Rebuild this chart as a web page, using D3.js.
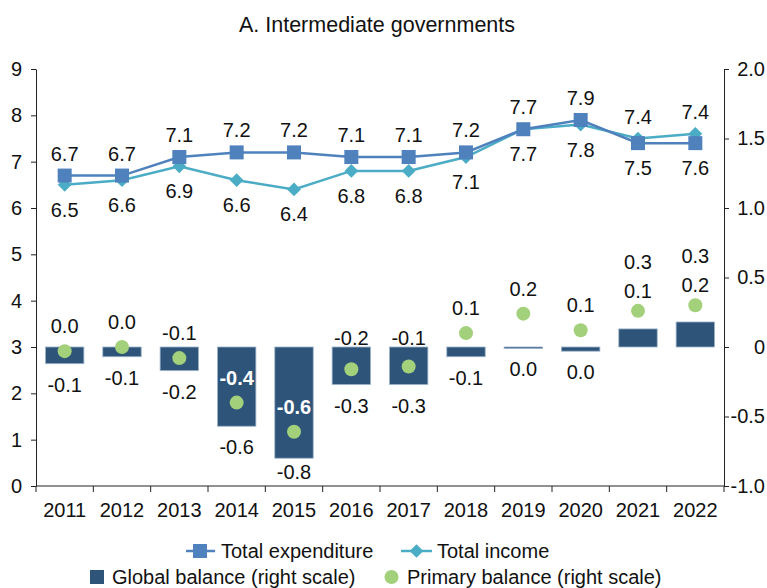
<!DOCTYPE html>
<html>
<head>
<meta charset="utf-8">
<script src="https://cdn.jsdelivr.net/npm/d3@7"></script>
<style>
  html, body { margin: 0; padding: 0; background: #fff; }
  svg { display: block; font-family: "Liberation Sans", Arial, sans-serif; }
</style>
</head>
<body>
<svg id="chart" width="767" height="588"></svg>
<script>
// Fiscal indicators of intermediate governments, 2011-2022 (% of GDP)
const years = ["2011","2012","2013","2014","2015","2016","2017","2018","2019","2020","2021","2022"];
const totalExpenditure = [6.7, 6.7, 7.1, 7.2, 7.2, 7.1, 7.1, 7.2, 7.7, 7.9, 7.4, 7.4];
const totalIncome      = [6.5, 6.6, 6.9, 6.6, 6.4, 6.8, 6.8, 7.1, 7.7, 7.8, 7.5, 7.6];
const globalBalance    = [-0.12, -0.07, -0.17, -0.57, -0.80, -0.27, -0.27, -0.07, -0.01, -0.03, 0.13, 0.18];
const primaryBalance   = [-0.03, 0.00, -0.08, -0.40, -0.61, -0.16, -0.14, 0.10, 0.24, 0.12, 0.26, 0.30];
const leftTicks  = [0, 1, 2, 3, 4, 5, 6, 7, 8, 9];
const rightTicks = [-1.0, -0.5, 0, 0.5, 1.0, 1.5, 2.0];

const C = {
  expenditure: "#4F81BD",
  income: "#4BACC6",
  bar: "#2E5479",
  barEdge: "#9DB3CB",
  dot: "#A3D07A",
  text: "#111"
};

// one decimal, plain hyphen for negatives, no "-0.0"
const fmt = v => {
  const s = Math.abs(v).toFixed(1);
  return (v < 0 && s !== "0.0" ? "-" : "") + s;
};

const svg = d3.select("#chart");
const plotLeft = 36, plotRight = 724, plotTop = 69, plotBottom = 486;

const x = d3.scaleBand().domain(years).range([plotLeft, plotRight])
  .paddingInner(0.33).paddingOuter(0.165);
const cx = d => x(d) + x.bandwidth() / 2;
const yL = d3.scaleLinear().domain([0, 9]).range([plotBottom, plotTop]);
const yR = d3.scaleLinear().domain([-1, 2]).range([plotBottom, plotTop]);

// title
svg.append("text").attr("x", 377).attr("y", 25)
  .attr("text-anchor", "middle").attr("dominant-baseline", "central")
  .attr("font-size", 21.5).attr("fill", C.text)
  .text("A. Intermediate governments");

// axes
const axisStyle = g => {
  g.select(".domain").attr("stroke", "#222").attr("stroke-width", 1);
  g.selectAll(".tick line").attr("stroke", "#222");
  g.selectAll(".tick text").attr("font-size", 20).attr("fill", C.text)
    .attr("font-family", "Liberation Sans, Arial, sans-serif");
};

svg.append("g").attr("transform", `translate(${plotLeft},0)`)
  .call(d3.axisLeft(yL).tickValues(leftTicks).tickFormat(d3.format("d"))
    .tickSizeInner(5).tickSizeOuter(0).tickPadding(9))
  .call(axisStyle);

svg.append("g").attr("transform", `translate(${plotRight},0)`)
  .call(d3.axisRight(yR).tickValues(rightTicks)
    .tickFormat(v => v === 0 ? "0" : fmt(v))
    .tickSizeInner(5).tickSizeOuter(0).tickPadding(9))
  .call(axisStyle)
  .call(g => g.selectAll(".tick text").attr("text-anchor", "end").attr("x", 41));

const xAxis = svg.append("g").attr("transform", `translate(0,${plotBottom})`)
  .call(d3.axisBottom(x).tickSize(0).tickPadding(17).tickSizeOuter(0))
  .call(axisStyle);
xAxis.select(".domain").attr("d", `M${plotLeft},0H${plotRight}`);
// category boundary ticks
const bounds = years.map(d => x(d) - x.step() * x.paddingInner() / 2).concat([plotRight]);
xAxis.selectAll(".bound").data(bounds).join("line").attr("class", "bound")
  .attr("x1", d => d).attr("x2", d => d).attr("y1", 0).attr("y2", 6)
  .attr("stroke", "#222");

// global balance bars (right scale)
svg.append("g").selectAll("rect").data(years).join("rect")
  .attr("x", d => x(d))
  .attr("width", x.bandwidth())
  .attr("y", (d, i) => Math.min(yR(0), yR(globalBalance[i])))
  .attr("height", (d, i) => Math.max(1.5, Math.abs(yR(globalBalance[i]) - yR(0))))
  .attr("fill", C.bar).attr("stroke", C.barEdge).attr("stroke-width", 0.8);

// primary balance dots (right scale)
svg.append("g").selectAll("circle").data(years).join("circle")
  .attr("cx", cx).attr("cy", (d, i) => yR(primaryBalance[i]))
  .attr("r", 7).attr("fill", C.dot);

// lines with markers (left scale)
const line = vals => d3.line().x((d, i) => cx(years[i])).y(d => yL(d))(vals);

svg.append("path").attr("d", line(totalIncome))
  .attr("fill", "none").attr("stroke", C.income).attr("stroke-width", 2.5);
svg.append("g").selectAll("path").data(totalIncome).join("path")
  .attr("d", d3.symbol(d3.symbolDiamond2, 120))
  .attr("transform", (d, i) => `translate(${cx(years[i])},${yL(d)})`)
  .attr("fill", C.income);

svg.append("path").attr("d", line(totalExpenditure))
  .attr("fill", "none").attr("stroke", C.expenditure).attr("stroke-width", 2.5);
svg.append("g").selectAll("rect").data(totalExpenditure).join("rect")
  .attr("x", (d, i) => cx(years[i]) - 7).attr("y", d => yL(d) - 7)
  .attr("width", 14).attr("height", 14).attr("fill", C.expenditure);

// value labels
const labels = svg.append("g").attr("font-size", 20).attr("fill", C.text)
  .attr("text-anchor", "middle").attr("dominant-baseline", "central");

years.forEach((yr, i) => {
  const px = cx(yr);
  // expenditure label above the upper marker, income label below the lower one
  const ye = yL(totalExpenditure[i]), yi = yL(totalIncome[i]);
  labels.append("text").attr("x", px).attr("y", Math.min(ye, yi) - 22).text(fmt(totalExpenditure[i]));
  labels.append("text").attr("x", px).attr("y", Math.max(ye, yi) + 25).text(fmt(totalIncome[i]));

  const g0 = yR(0), gb = yR(globalBalance[i]), pd = yR(primaryBalance[i]);
  let primaryY;
  if (globalBalance[i] > 0.05) {
    const gy = Math.min(gb, pd) - 20;
    labels.append("text").attr("x", px).attr("y", gy).text(fmt(globalBalance[i]));
    primaryY = gy - 29;
  } else {
    const gy = Math.min(Math.max(gb, g0) + 21, plotBottom - 14);
    labels.append("text").attr("x", px).attr("y", gy).text(fmt(globalBalance[i]));
    primaryY = pd - 25;
    // keep the label clear of the bar's top edge
    if (primaryY > g0 - 9 && primaryY < g0 + 14) primaryY = g0 - 9;
  }
  const inside = primaryY - 10 > g0 && primaryY + 10 < gb;
  labels.append("text").attr("x", px).attr("y", primaryY)
    .attr("fill", inside ? "#fff" : C.text)
    .attr("font-weight", inside ? "bold" : "normal")
    .text(fmt(primaryBalance[i]));
});

// legend
const lg = svg.append("g").attr("font-size", 20).attr("fill", C.text)
  .attr("dominant-baseline", "central");
const r1 = 551, r2 = 577;
lg.append("line").attr("x1", 186).attr("x2", 215).attr("y1", r1).attr("y2", r1)
  .attr("stroke", C.expenditure).attr("stroke-width", 2.5);
lg.append("rect").attr("x", 193).attr("y", r1 - 7).attr("width", 14).attr("height", 14)
  .attr("fill", C.expenditure);
lg.append("text").attr("x", 221).attr("y", r1).text("Total expenditure");

lg.append("line").attr("x1", 401).attr("x2", 432).attr("y1", r1).attr("y2", r1)
  .attr("stroke", C.income).attr("stroke-width", 2.5);
lg.append("path").attr("d", d3.symbol(d3.symbolDiamond2, 120))
  .attr("transform", `translate(416.5,${r1})`).attr("fill", C.income);
lg.append("text").attr("x", 437).attr("y", r1).text("Total income");

lg.append("rect").attr("x", 90).attr("y", r2 - 7).attr("width", 14).attr("height", 14)
  .attr("fill", C.bar);
lg.append("text").attr("x", 112).attr("y", r2).text("Global balance (right scale)");

lg.append("circle").attr("cx", 391.5).attr("cy", r2).attr("r", 7).attr("fill", C.dot);
lg.append("text").attr("x", 407).attr("y", r2).text("Primary balance (right scale)");
</script>
</body>
</html>
